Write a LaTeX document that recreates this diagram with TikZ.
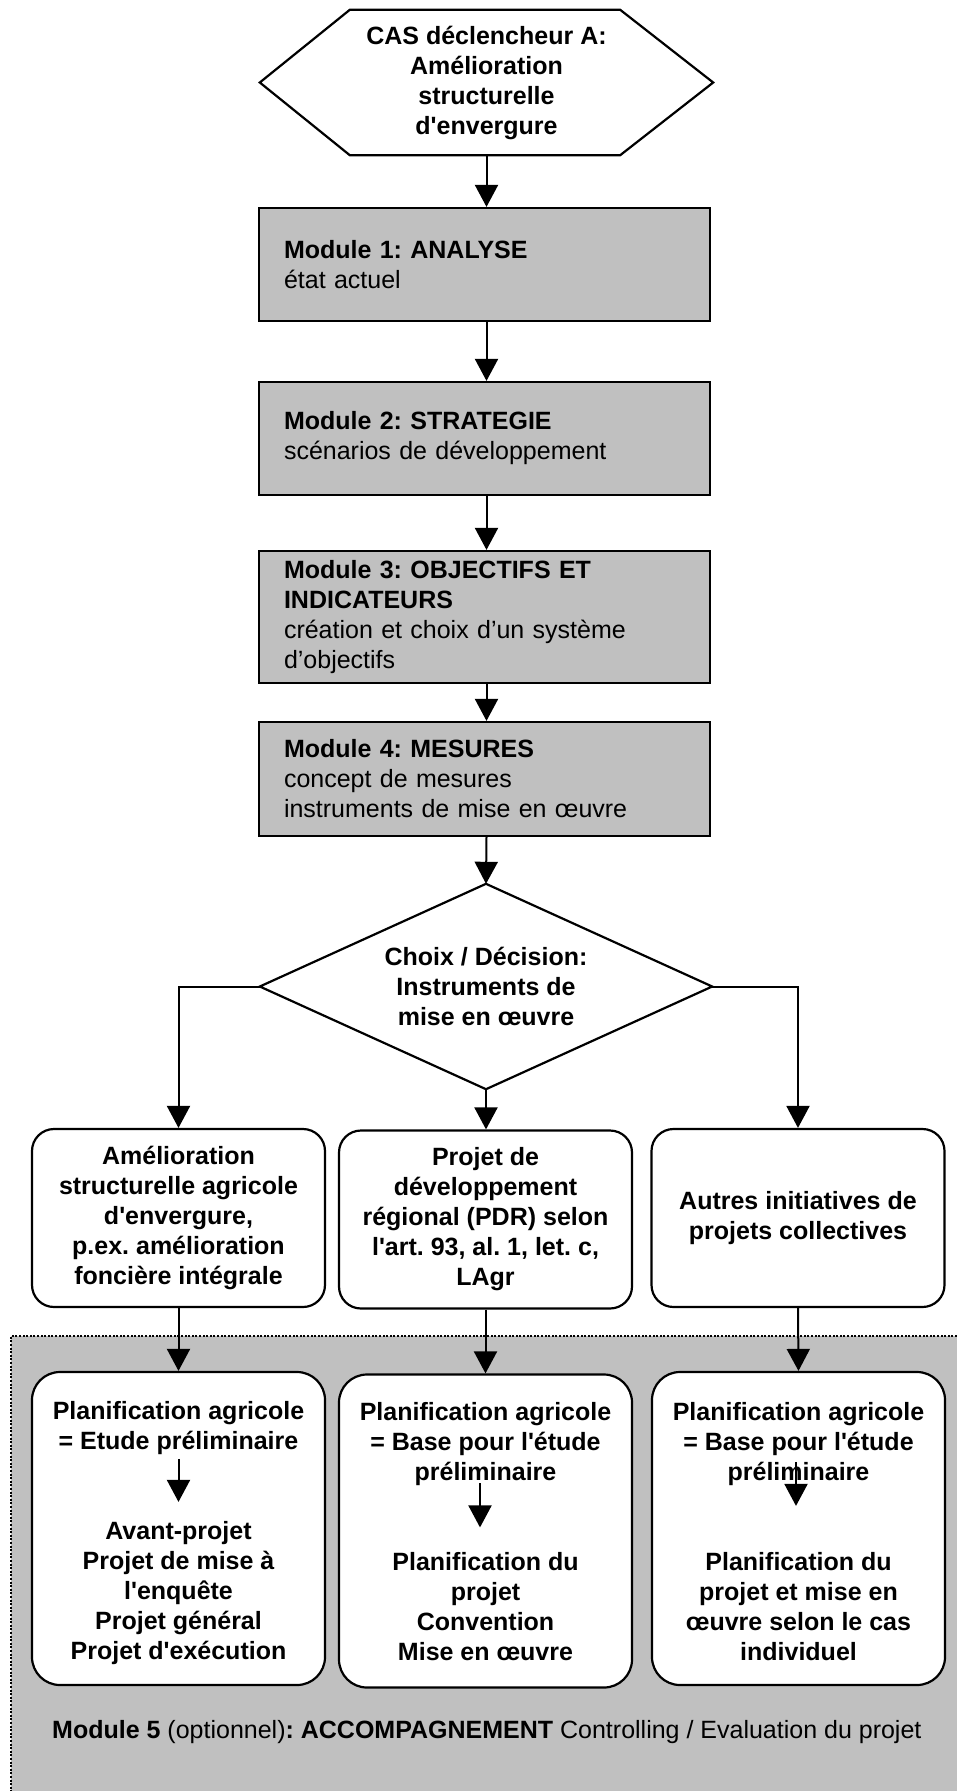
\documentclass[tikz,border=0pt]{standalone}
\usepackage{fontspec}
\newfontfamily\arialfam{Liberation Sans}
\usetikzlibrary{arrows.meta,calc}
\definecolor{panelgray}{HTML}{C0C0C0}
\newcommand{\diagfont}{\arialfam\fontsize{25}{30}\selectfont\frenchspacing}
\begin{document}
\begin{tikzpicture}[x=1pt,y=-1pt,
  every node/.style={font=\diagfont, inner sep=0pt},
  link/.style={line width=2pt, -{Triangle[width=23pt,length=22pt]}},
  outline/.style={line width=2.2pt},
  modbox/.style={draw, line width=2.2pt, fill=panelgray, text width=401pt,
    inner xsep=25pt, align=left},
  choice/.style={draw, line width=2.2pt, fill=white, rounded corners=22pt,
    minimum width=293pt, minimum height=178pt, align=center,
    font=\diagfont\bfseries},
  stage/.style={draw, line width=2.2pt, fill=white, rounded corners=28pt,
    minimum width=293pt, minimum height=313pt},
  bt/.style={align=center, font=\diagfont\bfseries},
  dotline/.style={line width=2.2pt, dash pattern=on 2pt off 1.6pt}
]
\useasboundingbox (0,0) rectangle (957,1791);

% module 5 background panel
\fill[panelgray] (11,1336) rectangle (957,1791);
\draw[dotline] (957,1336) -- (11,1336) -- (11,1791);

% trigger hexagon
\node[bt, minimum width=453pt, minimum height=145pt] (hex) at (486.5,82.5)
  {CAS déclencheur A:\\Amélioration\\structurelle\\d'envergure};
\draw[outline] (hex.west) -- ($(hex.north west)+(90,0)$) -- ($(hex.north east)+(-93,0)$)
  -- (hex.east) -- ($(hex.south east)+(-93,0)$) -- ($(hex.south west)+(90,0)$) -- cycle;

% modules 1-4
\node[modbox, minimum height=113pt] (m1) at (484.5,264.5)
  {\textbf{Module 1: ANALYSE}\\état actuel};
\node[modbox, minimum height=113pt] (m2) at (484.5,438.5)
  {\textbf{Module 2: STRATEGIE}\\scénarios de développement};
\node[modbox, minimum height=132pt] (m3) at (484.5,617)
  {\textbf{Module 3: OBJECTIFS ET}\\\textbf{INDICATEURS}\\création et choix d’un système\\d’objectifs};
\node[modbox, minimum height=114pt] (m4) at (484.5,779)
  {\textbf{Module 4: MESURES}\\concept de mesures\\instruments de mise en œuvre};

% decision
\node[bt, minimum width=452pt, minimum height=205pt] (dec) at (486,986.5)
  {Choix / Décision:\\Instruments de\\mise en œuvre};
\draw[outline] (dec.north) -- (dec.east) -- (dec.south) -- (dec.west) -- cycle;

% instruments
\node[choice] (ua) at (178.5,1218)
  {Amélioration\\structurelle agricole\\d'envergure,\\p.ex. amélioration\\foncière intégrale};
\node[choice] (ub) at (485.5,1219.5)
  {Projet de\\développement\\régional (PDR) selon\\l'art. 93, al. 1, let. c,\\LAgr};
\node[choice] (uc) at (798,1218)
  {Autres initiatives de\\projets collectives};

% planning stages
\node[stage] (la) at (178.5,1528.5) {};
\node[stage] (lb) at (485.5,1531) {};
\node[stage] (lc) at (798.5,1528.5) {};

\node[bt] (lat) at (178.5,1428) {Planification agricole\\= Etude préliminaire};
\node[bt] (lab) at (178.5,1593)
  {Avant-projet\\Projet de mise à\\l'enquête\\Projet général\\Projet d'exécution};
\node[bt] (lbt) at (485.5,1444) {Planification agricole\\= Base pour l'étude\\préliminaire};
\node[bt] (lbb) at (485.5,1607) {Planification du\\projet\\Convention\\Mise en œuvre};
\node[bt] (lct) at (798.5,1444) {Planification agricole\\= Base pour l'étude\\préliminaire};
\node[bt] (lcb) at (798.5,1607)
  {Planification du\\projet et mise en\\œuvre selon le cas\\individuel};

\node[anchor=west] (m5) at (52,1732)
  {\textbf{Module 5} (optionnel)\textbf{: ACCOMPAGNEMENT} Controlling / Evaluation du projet};

% main flow
\draw[link] (hex.south) -- (hex.south |- m1.north);
\draw[link] (m1.south -| hex.south) -- (hex.south |- m2.north);
\draw[link] (m2.south -| hex.south) -- (hex.south |- m3.north);
\draw[link] (m3.south -| hex.south) -- (hex.south |- m4.north);
\draw[link] (m4.south -| hex.south) -- (dec.north);
\draw[link] (dec.west) -| (ua.north);
\draw[link] (dec.east) -| (uc.north);
\draw[link] (dec.south) -- (dec.south |- ub.north);
\draw[link] (ua.south) -- (la.north);
\draw[link] (ub.south) -- (lb.north);
\draw[link] (uc.south) -- (lc.north);

% steps inside the planning stages
\draw[link] ($(la.north)+(0,88)$) -- ($(la.north)+(0,131)$);
\draw[link] ($(lb.north)+(-5.5,110)$) -- ($(lb.north)+(-5.5,154)$);
\draw[link] ($(lc.north)+(-2.5,91)$) -- ($(lc.north)+(-2.5,135)$);
\end{tikzpicture}
\end{document}
